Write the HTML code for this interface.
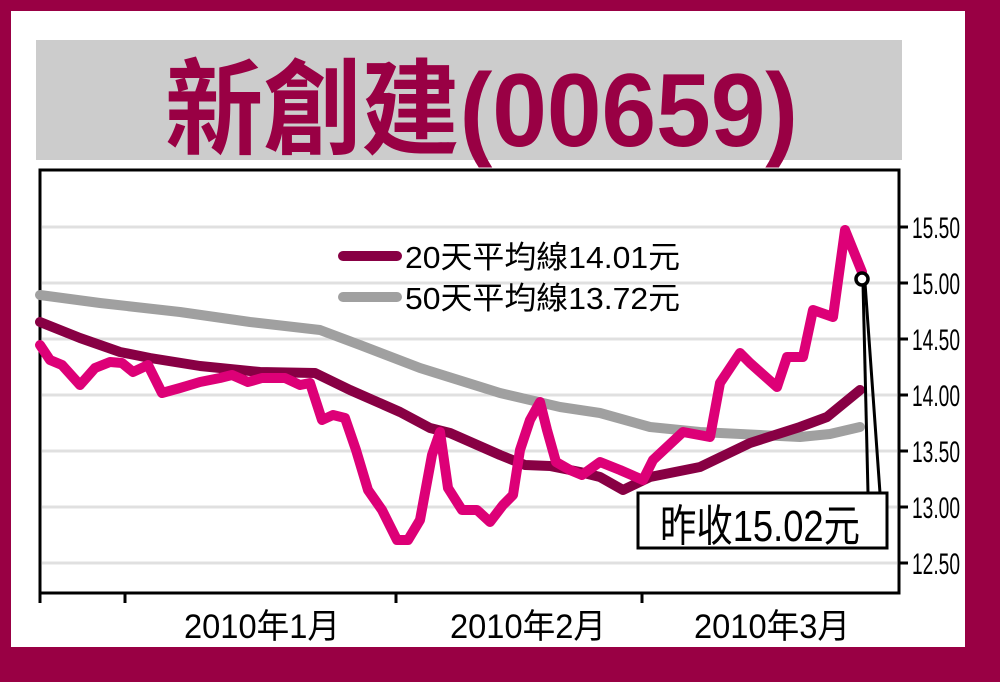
<!DOCTYPE html>
<html><head><meta charset="utf-8"><style>
body{margin:0;width:1000px;height:682px;overflow:hidden;background:#990044}
</style></head><body>
<svg width="1000" height="682" xmlns="http://www.w3.org/2000/svg" style="display:block">
<rect width="1000" height="682" fill="#990044"/>
<rect x="11" y="11" width="954" height="636" fill="#fff"/>
<rect x="36" y="40" width="866" height="120" fill="#cccccc"/>
<text x="165" y="146" textLength="633" lengthAdjust="spacingAndGlyphs" font-family="Liberation Sans,Noto Sans CJK TC,sans-serif" font-weight="bold" font-size="104" fill="#990044">新創建(00659)</text>
<g stroke="#e0e0e0" stroke-width="3">
<line x1="42" y1="227" x2="897" y2="227"/><line x1="42" y1="283" x2="897" y2="283"/>
<line x1="42" y1="339" x2="897" y2="339"/><line x1="42" y1="395" x2="897" y2="395"/>
<line x1="42" y1="451" x2="897" y2="451"/><line x1="42" y1="507" x2="897" y2="507"/>
<line x1="42" y1="563" x2="897" y2="563"/>
</g>
<rect x="40" y="170" width="859" height="423" fill="none" stroke="#000" stroke-width="3"/>
<g stroke="#000" stroke-width="3">
<line x1="899" y1="227" x2="908" y2="227"/><line x1="899" y1="283" x2="908" y2="283"/>
<line x1="899" y1="339" x2="908" y2="339"/><line x1="899" y1="395" x2="908" y2="395"/>
<line x1="899" y1="451" x2="908" y2="451"/><line x1="899" y1="507" x2="908" y2="507"/>
<line x1="899" y1="563" x2="908" y2="563"/>
<line x1="40" y1="593" x2="40" y2="603"/><line x1="125" y1="593" x2="125" y2="603"/>
<line x1="396" y1="593" x2="396" y2="603"/><line x1="642" y1="593" x2="642" y2="603"/>
</g>
<g font-family="Liberation Sans,sans-serif" font-size="30" fill="#000">
<text x="912" y="238" textLength="48" lengthAdjust="spacingAndGlyphs">15.50</text>
<text x="912" y="294" textLength="48" lengthAdjust="spacingAndGlyphs">15.00</text>
<text x="912" y="350" textLength="48" lengthAdjust="spacingAndGlyphs">14.50</text>
<text x="912" y="406" textLength="48" lengthAdjust="spacingAndGlyphs">14.00</text>
<text x="912" y="462" textLength="48" lengthAdjust="spacingAndGlyphs">13.50</text>
<text x="912" y="518" textLength="48" lengthAdjust="spacingAndGlyphs">13.00</text>
<text x="912" y="574" textLength="48" lengthAdjust="spacingAndGlyphs">12.50</text>
</g>
<g font-family="Liberation Sans,Noto Sans CJK TC,sans-serif" font-size="34" fill="#000">
<text x="184" y="638" textLength="156" lengthAdjust="spacingAndGlyphs">2010年1月</text>
<text x="450" y="638" textLength="156" lengthAdjust="spacingAndGlyphs">2010年2月</text>
<text x="694" y="638" textLength="156" lengthAdjust="spacingAndGlyphs">2010年3月</text>
</g>
<g fill="none" stroke-linejoin="round" stroke-linecap="round">
<polyline stroke="#a0a0a0" stroke-width="10" points="40,295 100,303 180,312 250,322 320,330 360,345 420,368 500,393 560,407 600,413 650,427 700,432 800,437 830,434 860,427"/>
<polyline stroke="#880044" stroke-width="10" points="40,322 80,338 120,352 150,358 200,366 260,372 315,373 350,390 400,412 430,428 450,433 500,455 525,465 550,466 580,472 600,477 623,490 650,477 700,467 750,443 800,427 827,417 860,390"/>
<polyline stroke="#dd0077" stroke-width="10" points="40,345 50,360 62,365 80,385 95,368 110,362 122,363 133,372 148,365 162,393 180,388 200,382 220,378 232,375 248,382 262,378 285,378 300,385 310,383 322,420 333,415 345,418 356,450 368,490 382,510 397,540 408,540 420,520 432,455 440,432 448,488 462,510 477,510 490,522 503,505 513,495 520,450 530,420 540,402 547,430 556,462 570,470 582,475 600,462 620,470 643,480 653,460 683,432 710,437 720,383 740,353 750,363 777,387 787,357 803,357 813,310 833,317 845,230 862,272"/>
</g>
<line x1="343" y1="256" x2="397" y2="256" stroke="#880044" stroke-width="10" stroke-linecap="round"/>
<line x1="343" y1="297" x2="397" y2="297" stroke="#a0a0a0" stroke-width="10" stroke-linecap="round"/>
<g font-family="Liberation Sans,Noto Sans CJK TC,sans-serif" font-size="31" fill="#000">
<text x="405" y="268" textLength="275" lengthAdjust="spacingAndGlyphs">20天平均線14.01元</text>
<text x="405" y="309" textLength="275" lengthAdjust="spacingAndGlyphs">50天平均線13.72元</text>
</g>
<polyline points="863,283 868,493" stroke="#000" stroke-width="3" fill="none"/>
<polyline points="865,283 880,493 888,493" stroke="#000" stroke-width="3" fill="none"/>
<rect x="638" y="493" width="249" height="55" fill="#fff" stroke="#000" stroke-width="3"/>
<text x="660" y="541" textLength="200" lengthAdjust="spacingAndGlyphs" font-family="Liberation Sans,Noto Sans CJK TC,sans-serif" font-size="44" fill="#000">昨收15.02元</text>
<circle cx="862" cy="279" r="6" fill="#fff" stroke="#000" stroke-width="3.5"/>
</svg>
</body></html>
